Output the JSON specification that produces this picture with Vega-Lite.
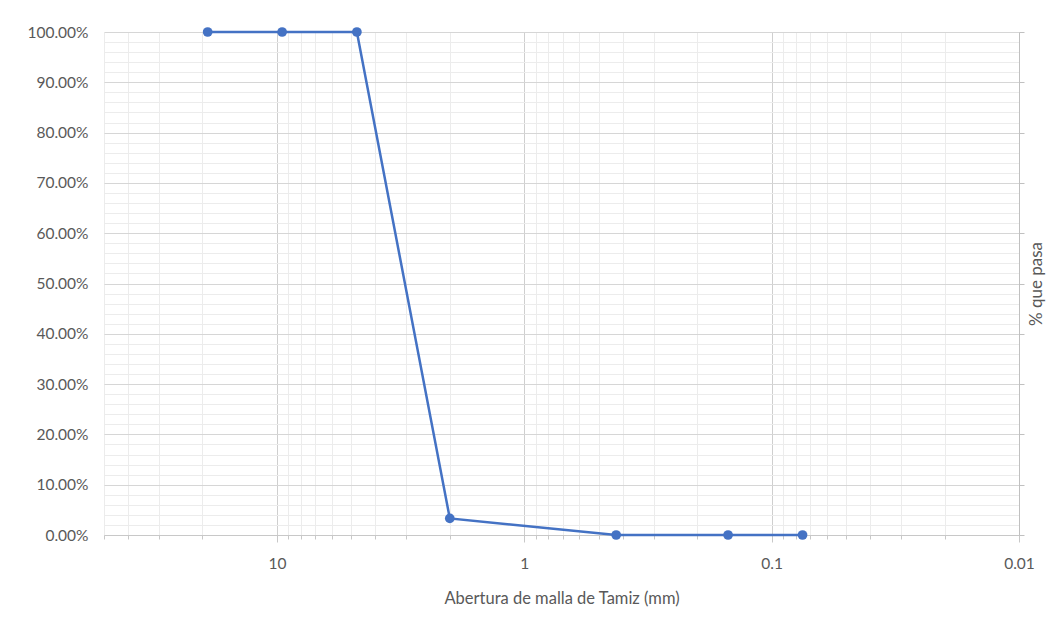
{
  "$schema": "https://vega.github.io/schema/vega-lite/v6.json",
  "width": 915,
  "height": 503,
  "autosize": {"type": "none"},
  "padding": {"left": 104, "top": 32, "right": 43, "bottom": 101},
  "background": "white",
  "config": {
    "view": {"stroke": null},
    "font": "Lato",
    "axis": {"labelColor": "#595959", "titleColor": "#595959", "labelFontSize": 15.5, "titleFontSize": 16.5, "titleFontWeight": "normal", "labelFont": "Lato", "titleFont": "Lato"}
  },
  "data": {
    "values": [
      {"abertura": 19.05, "pasa": 1.0},
      {"abertura": 9.525, "pasa": 1.0},
      {"abertura": 4.75, "pasa": 1.0},
      {"abertura": 2.0, "pasa": 0.033},
      {"abertura": 0.425, "pasa": 0.0},
      {"abertura": 0.15, "pasa": 0.0},
      {"abertura": 0.075, "pasa": 0.0}
    ]
  },
  "encoding": {
    "x": {
      "field": "abertura",
      "type": "quantitative",
      "scale": {"type": "log", "domain": [0.01, 50], "reverse": true, "nice": false},
      "axis": {
        "title": "Abertura de malla de Tamiz (mm)",
        "titlePadding": 19,
        "values": [50, 40, 30, 20, 10, 9, 8, 7, 6, 5, 4, 3, 2, 1, 0.9, 0.8, 0.7, 0.6, 0.5, 0.4, 0.3, 0.2, 0.1, 0.09, 0.08, 0.07, 0.06, 0.05, 0.04, 0.03, 0.02, 0.01],
        "labelExpr": "abs(log(datum.value)/LN10 - round(log(datum.value)/LN10)) < 0.001 ? format(datum.value, '~g') : ''",
        "labelOverlap": false,
        "labelFlush": false,
        "labelPadding": 14,
        "domainColor": "#c8c8c8",
        "grid": true,
        "gridColor": {"condition": {"test": "abs(log(datum.value)/LN10 - round(log(datum.value)/LN10)) < 0.001", "value": "#cfcfcf"}, "value": "#ececec"},
        "tickColor": "#c8c8c8",
        "tickSize": {"condition": {"test": "abs(log(datum.value)/LN10 - round(log(datum.value)/LN10)) < 0.001", "value": 7}, "value": 4}
      }
    }
  },
  "layer": [
    {
      "mark": {"type": "line", "color": "#4472C4", "strokeWidth": 2.5},
      "encoding": {
        "y": {
          "field": "pasa",
          "type": "quantitative",
          "scale": {"domain": [0, 1], "nice": false},
          "axis": {
            "title": null,
            "orient": "left",
            "values": [0, 0.02, 0.04, 0.06, 0.08, 0.1, 0.12, 0.14, 0.16, 0.18, 0.2, 0.22, 0.24, 0.26, 0.28, 0.3, 0.32, 0.34, 0.36, 0.38, 0.4, 0.42, 0.44, 0.46, 0.48, 0.5, 0.52, 0.54, 0.56, 0.58, 0.6, 0.62, 0.64, 0.66, 0.68, 0.7, 0.72, 0.74, 0.76, 0.78, 0.8, 0.82, 0.84, 0.86, 0.88, 0.9, 0.92, 0.94, 0.96, 0.98, 1],
            "labelExpr": "abs(datum.value*10 - round(datum.value*10)) < 0.001 ? format(datum.value, '.2%') : ''",
            "labelOverlap": false,
            "labelFlush": false,
            "labelPadding": 16,
            "ticks": false,
            "domain": false,
            "grid": true,
            "gridColor": {"condition": {"test": "abs(datum.value*10 - round(datum.value*10)) < 0.001", "value": "#d6d6d6"}, "value": "#ececec"}
          }
        }
      }
    },
    {
      "mark": {"type": "point", "filled": true, "size": 95, "color": "#4472C4", "opacity": 1},
      "encoding": {
        "y": {
          "field": "pasa",
          "type": "quantitative",
          "scale": {"domain": [0, 1], "nice": false},
          "axis": {
            "title": "% que pasa",
            "orient": "right",
            "titleAngle": 270,
            "titlePadding": 21,
            "titleFontSize": 17,
            "values": [0, 0.1, 0.2, 0.3, 0.4, 0.5, 0.6, 0.7, 0.8, 0.9, 1],
            "labels": false,
            "grid": false,
            "ticks": true,
            "tickSize": 5,
            "tickColor": "#c0c0c0",
            "domain": true,
            "domainColor": "#c0c0c0"
          }
        }
      }
    }
  ],
  "resolve": {"axis": {"y": "independent"}}
}
